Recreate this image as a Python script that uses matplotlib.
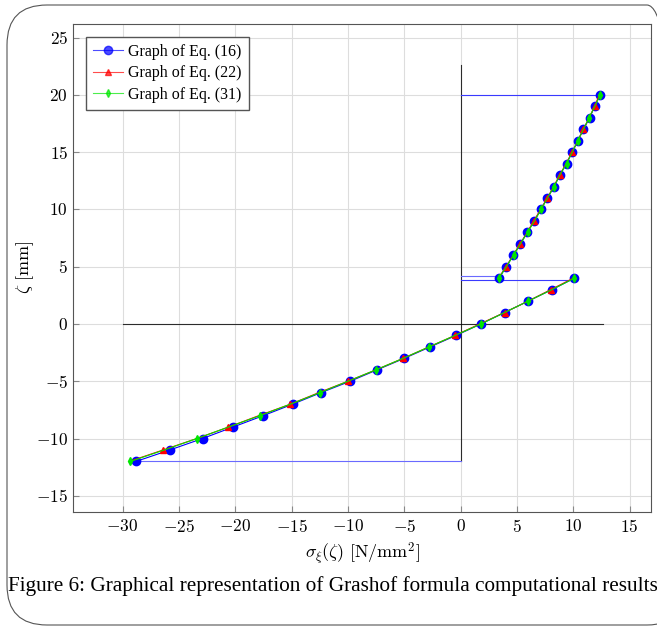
import numpy as np
import matplotlib
matplotlib.use("Agg")
import matplotlib.pyplot as plt
from matplotlib.patches import FancyBboxPatch
from matplotlib.ticker import FuncFormatter

plt.rcParams['mathtext.fontset'] = 'cm'
plt.rcParams['font.family'] = ['Liberation Serif', 'DejaVu Serif']

# zeta values [mm] for the two branches
zeta_low = [-12, -11, -10, -9, -8, -7, -6, -5, -4, -3, -2, -1, 0, 1, 2, 3, 4]
zeta_up = [4, 5, 6, 7, 8, 9, 10, 11, 12, 13, 14, 15, 16, 17, 18, 19, 20]

# sigma values, Eq. (16)
sig16_low = [-28.8, -25.8, -22.9, -20.2, -17.5, -14.9, -12.4, -9.8, -7.4, -5.0,
             -2.7, -0.4, 1.8, 3.9, 6.0, 8.1, 10.1]
sig16_up = [3.4, 4.05, 4.67, 5.3, 5.9, 6.55, 7.1, 7.7, 8.3, 8.8, 9.4, 9.9,
            10.4, 10.9, 11.45, 11.9, 12.35]
# Eq. (22)
sig22_low = [-29.4, -26.4, -23.4, -20.6, -17.9, -15.1, -12.6, -10.0, -7.5, -5.1,
             -2.8, -0.5, 1.7, 3.9, 6.0, 8.0, 10.0]
sig22_up = [3.35, 4.05, 4.65, 5.3, 5.9, 6.5, 7.1, 7.7, 8.25, 8.8, 9.35, 9.9,
            10.4, 10.9, 11.4, 11.9, 12.3]
# Eq. (31)
sig31_low = [-29.3, -26.3, -23.4, -20.6, -17.8, -15.1, -12.5, -10.0, -7.5, -5.1,
             -2.8, -0.5, 1.8, 3.9, 6.0, 8.1, 10.1]
sig31_up = [3.4, 4.05, 4.7, 5.3, 5.95, 6.55, 7.15, 7.7, 8.3, 8.8, 9.4, 9.9,
            10.4, 10.9, 11.4, 11.9, 12.4]

xticks = [-30, -25, -20, -15, -10, -5, 0, 5, 10, 15]
yticks = [-15, -10, -5, 0, 5, 10, 15, 20, 25]

fig = plt.figure(figsize=(6.57, 6.28), dpi=100)
ax = fig.add_axes([0.111, 0.185, 0.88, 0.777])

# reference lines
ax.plot([-30, 12.6], [0, 0], color='k', lw=0.8, alpha=0.8)
ax.plot([0, 0], [-12, 22.6], color='k', lw=0.8, alpha=0.8)
ax.plot([0, sig16_up[-1]], [20, 20], color='#3a3aff', lw=0.8)
ax.plot([sig16_low[0], 0], [-12, -12], color='#6a6aff', lw=0.8)
ax.plot([0, sig16_up[0]], [4.2, 4.2], color='#6a6aff', lw=0.8)
ax.plot([0, sig16_low[-1]], [3.85, 3.85], color='#3a3aff', lw=0.8)

for xs_l, xs_u, col, mk, ms, every, lab in [
        (sig16_low, sig16_up, 'blue', 'o', 6, 1, 'Graph of Eq. (16)'),
        (sig22_low, sig22_up, 'red', '^', 4, (1, 2), 'Graph of Eq. (22)'),
        (sig31_low, sig31_up, '#00e600', 'd', 4, (0, 2), 'Graph of Eq. (31)')]:
    ax.plot(xs_l, zeta_low, color=col, lw=0.8, marker=mk, ms=ms, markevery=every,
            label=lab)
    ax.plot(xs_u, zeta_up, color=col, lw=0.8, marker=mk, ms=ms, markevery=every)

ax.set_xlim(-34.4, 16.9)
ax.set_ylim(-16.4, 26.2)
ax.set_xticks(xticks)
ax.set_yticks(yticks)
fmt = FuncFormatter(lambda v, p: r'$%d$' % v)
ax.xaxis.set_major_formatter(fmt)
ax.yaxis.set_major_formatter(fmt)
ax.grid(True, color='#dddddd', lw=0.8)
ax.set_axisbelow(True)
ax.tick_params(direction='in', labelsize=12.5, length=4, color='#888888')
ax.tick_params(axis='x', pad=5)
for s in ax.spines.values():
    s.set_color('#555555')

ax.set_xlabel(r'$\sigma_\xi(\zeta)\ [\mathrm{N/mm}^2]$', fontsize=13, labelpad=3)
ax.set_ylabel(r'$\zeta\ [\mathrm{mm}]$', fontsize=13, labelpad=0)

leg = ax.legend(loc='upper left', fontsize=11.5, handlelength=1.9, borderpad=0.45,
                labelspacing=0.35, handletextpad=0.3, fancybox=False,
                edgecolor='#555555', framealpha=1, borderaxespad=0.8)
for h in leg.get_lines():
    h.set_alpha(0.7)

fig.text(0.012, 0.067, 'Figure 6: Graphical representation of Grashof formula computational results',
         fontsize=15.3, ha='left', va='center')

frame = FancyBboxPatch((7, 3), 680, 620, boxstyle='round,pad=0,rounding_size=40',
                       transform=None, fill=False, edgecolor='#555555', lw=0.8)
fig.patches.append(frame)

fig.savefig('out.png', dpi=100)
